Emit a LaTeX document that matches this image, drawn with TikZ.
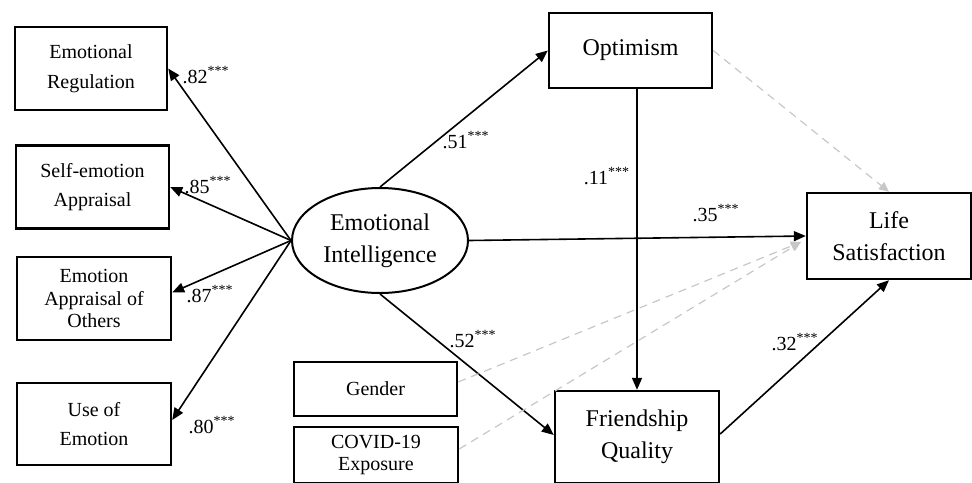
\documentclass[tikz,border=0pt]{standalone}
\usepackage{fontspec}
\setmainfont{Liberation Serif}
\usetikzlibrary{arrows.meta,shapes.geometric}
\begin{document}
\begin{tikzpicture}[x=0.5pt,y=-0.5pt,
  box/.style={draw,line width=1.2pt,rectangle,inner sep=0pt,align=center},
  smallbox/.style={box,font=\fontsize{10}{14.8}\selectfont},
  bigbox/.style={box,font=\fontsize{12}{16}\selectfont},
  path/.style={line width=0.8pt,-{Triangle[length=6pt,width=5pt]}},
  ctrl/.style={line width=0.6pt,draw=black!22,dash pattern=on 4pt off 3pt,-{Triangle[length=5pt,width=4.5pt]}},
  coef/.style={font=\fontsize{10}{12}\selectfont,inner sep=0pt}]
\useasboundingbox (0,0) rectangle (972,482);
% left indicator boxes
\node[smallbox,minimum width=76pt,minimum height=41.5pt] (ER) at (91,68.5) {Emotional\\Regulation};
\node[smallbox,minimum width=76.5pt,minimum height=41.5pt] (SA) at (92.5,187) {Self-emotion\\Appraisal};
\node[smallbox,minimum width=77pt,minimum height=41.5pt,font=\fontsize{10}{11.4}\selectfont] (EAO) at (94,298.5) {Emotion\\Appraisal of\\Others};
\node[smallbox,minimum width=77pt,minimum height=41pt] (UE) at (94,424) {Use of\\Emotion};
% latent
\node[draw,ellipse,line width=1pt,minimum width=88pt,minimum height=52.5pt,inner sep=0pt,align=center,font=\fontsize{12}{16}\selectfont] (EI) at (380,240.5) {Emotional\\Intelligence};
% right boxes
\node[bigbox,minimum width=81.5pt,minimum height=37.5pt] (OP) at (630.5,50.5) {Optimism};
\node[bigbox,minimum width=82pt,minimum height=43pt] (LS) at (889,236) {Life\\Satisfaction};
\node[bigbox,minimum width=82pt,minimum height=46pt] (FQ) at (637,437) {Friendship\\Quality};
\node[smallbox,minimum width=81.5pt,minimum height=27pt] (GE) at (375.5,389) {Gender};
\node[smallbox,minimum width=82pt,minimum height=28pt,font=\fontsize{10}{11}\selectfont] (CV) at (376,455) {COVID-19\\Exposure};
% loadings
\draw[path] (EI.west) -- (ER.east);
\draw[path] (EI.west) -- (SA.east);
\draw[path] (EI.west) -- ([yshift=3pt]EAO.east);
\draw[path] (EI.west) -- ([yshift=2pt]UE.east);
% structural paths
\draw[path] (EI.north) -- (OP.west);
\draw[path] (EI.east) -- (LS.west);
\draw[path] (EI.south) -- ([yshift=1pt]FQ.west);
\draw[path] (FQ.north |- OP.south) -- (FQ.north);
\draw[path] ([yshift=1.5pt]FQ.east) -- (LS.south);
% controls / nonsignificant
\coordinate (dend) at (801,242);
\draw[ctrl] (OP.east) -- (LS.north);
\draw[ctrl] ([yshift=3.5pt]GE.east) -- (dend);
\draw[ctrl] ([yshift=3pt]CV.east) -- (dend);
% coefficients
\node[coef] (c1) at (206,75) {.82\textsuperscript{***}};
\node[coef] (c2) at (208,185) {.85\textsuperscript{***}};
\node[coef] (c3) at (210,294) {.87\textsuperscript{***}};
\node[coef] (c4) at (212,425) {.80\textsuperscript{***}};
\node[coef] (c5) at (466,140) {.51\textsuperscript{***}};
\node[coef] (c6) at (607,176) {.11\textsuperscript{***}};
\node[coef] (c7) at (716,213) {.35\textsuperscript{***}};
\node[coef] (c8) at (473,339) {.52\textsuperscript{***}};
\node[coef] (c9) at (795,342) {.32\textsuperscript{***}};
\end{tikzpicture}
\end{document}
